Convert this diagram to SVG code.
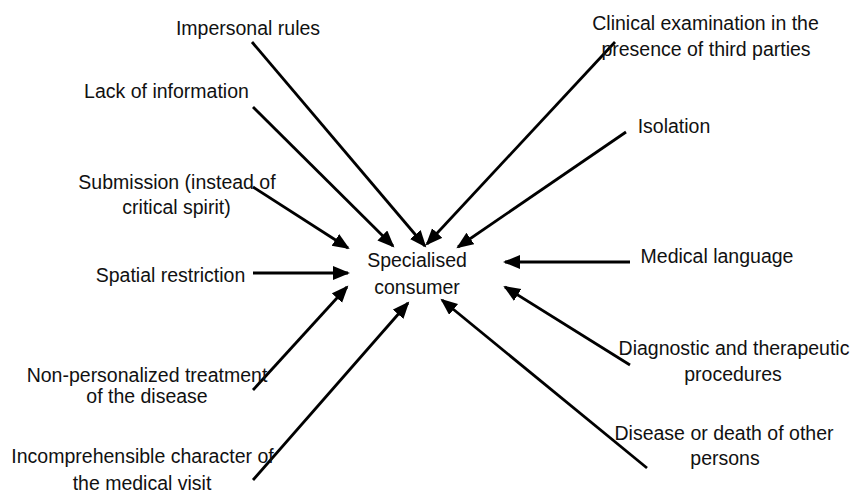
<svg xmlns="http://www.w3.org/2000/svg" width="853" height="496" viewBox="0 0 853 496">
<style>
text{font-family:"Liberation Sans",Arial,sans-serif;font-size:19.5px;fill:#111;text-anchor:middle}
.c line{stroke:#000;stroke-width:2.8;marker-end:url(#ah)}
</style>
<defs>
<marker id="ah" markerUnits="userSpaceOnUse" markerWidth="19" markerHeight="16" refX="15" refY="7" orient="auto">
<path d="M0,0 L17,7 L0,14 z" fill="#000"/>
</marker>
</defs>
<rect width="853" height="496" fill="#fff"/>
<g id="connectors" class="c">
<line x1="252" y1="42" x2="425" y2="246"/>
<line x1="253" y1="107" x2="393" y2="246"/>
<line x1="253" y1="187" x2="348" y2="248"/>
<line x1="253" y1="273" x2="348" y2="273"/>
<line x1="253" y1="390" x2="347" y2="287"/>
<line x1="253" y1="480" x2="408" y2="303"/>
<line x1="615" y1="42" x2="427" y2="244"/>
<line x1="626" y1="132" x2="458" y2="247"/>
<line x1="630" y1="262" x2="505" y2="262"/>
<line x1="630" y1="365" x2="505" y2="287"/>
<line x1="647" y1="468" x2="442" y2="300"/>
</g>
<g id="center"><text x="417" y="267">Specialised</text><text x="417" y="294">consumer</text></g>
<g id="impersonal"><text x="248" y="35">Impersonal rules</text></g>
<g id="lack"><text x="166.5" y="98">Lack of information</text></g>
<g id="submission"><text x="177" y="189">Submission (instead of</text><text x="176.5" y="214">critical spirit)</text></g>
<g id="spatial"><text x="170.5" y="282">Spatial restriction</text></g>
<g id="nonpers"><text x="147" y="382">Non-personalized treatment</text><text x="147" y="403">of the disease</text></g>
<g id="incomp"><text x="142.5" y="463">Incomprehensible character of</text><text x="142" y="490">the medical visit</text></g>
<g id="clinical"><text x="705.5" y="30">Clinical examination in the</text><text x="706" y="56">presence of third parties</text></g>
<g id="isolation"><text x="674" y="133">Isolation</text></g>
<g id="medical"><text x="717" y="263">Medical language</text></g>
<g id="diagnostic"><text x="734" y="355">Diagnostic and therapeutic</text><text x="733" y="381">procedures</text></g>
<g id="disease"><text x="724" y="440">Disease or death of other</text><text x="725" y="465">persons</text></g>
</svg>
